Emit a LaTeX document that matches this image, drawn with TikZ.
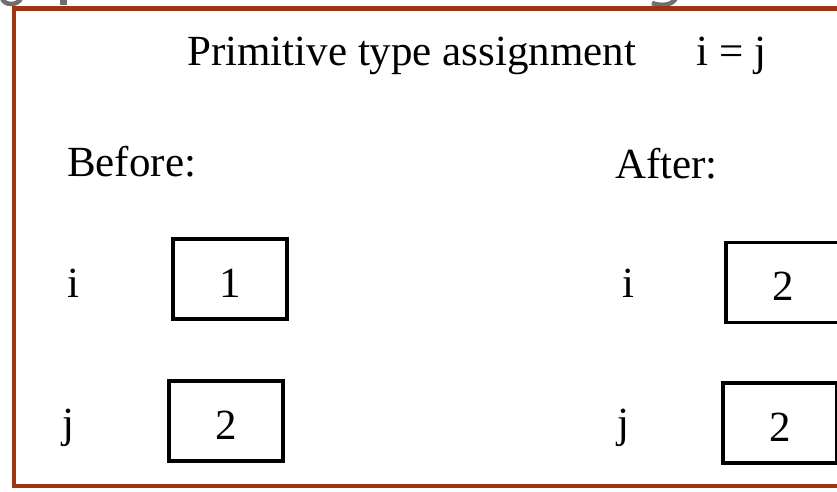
\documentclass[tikz,border=0pt]{standalone}
\usepackage{fontspec}
\setmainfont{Liberation Serif}
\definecolor{frame}{RGB}{158,52,18}
\definecolor{ghost}{RGB}{110,110,110}
\tikzset{
  x=1pt, y=1pt,
  lbl/.style={anchor=base west, inner sep=0pt, font=\fontsize{43}{46}\selectfont},
  cell/.style={draw=black, line width=3.5pt, minimum width=114pt, minimum height=80pt, inner sep=0pt,
    text height=36pt, text depth=0pt, font=\fontsize{43}{46}\selectfont},
}
\begin{document}
\begin{tikzpicture}
\useasboundingbox (0,0) rectangle (837,491);
\clip (0,0) rectangle (837,491);
\fill[white] (0,0) rectangle (837,491);
% fragments of a cut-off heading above the frame
\draw[ghost, line width=4.5pt] (2,493) .. controls (4,485) and (18,485) .. (21,493);
\fill[ghost] (60,486) rectangle (67,491);
\draw[ghost, line width=4.5pt] (676,493) .. controls (672,485) and (660,485) .. (652,488);
% frame
\draw[frame, line width=4.5pt] (14,5) rectangle (860,482.5);
% texts
\node[lbl] (title) at (187,425) {Primitive type assignment\hspace{60pt}i = j};
\node[lbl] (before) at (67,315) {Before:};
\node[lbl] (after) at (615,313) {After:};
\node[lbl] (bi) at (67,194) {i};
\node[lbl] (bj) at (62,54) {j};
\node[lbl] (ai) at (622,194) {i};
\node[lbl] (aj) at (617,54) {j};
% boxes
\node[cell] (b1) at (230,212) {1};
\node[cell] (b2) at (226,70) {2};
\node[cell] (a1) at (783,208.5) {2};
\node[cell] (a2) at (780,68) {2};
\end{tikzpicture}
\end{document}
